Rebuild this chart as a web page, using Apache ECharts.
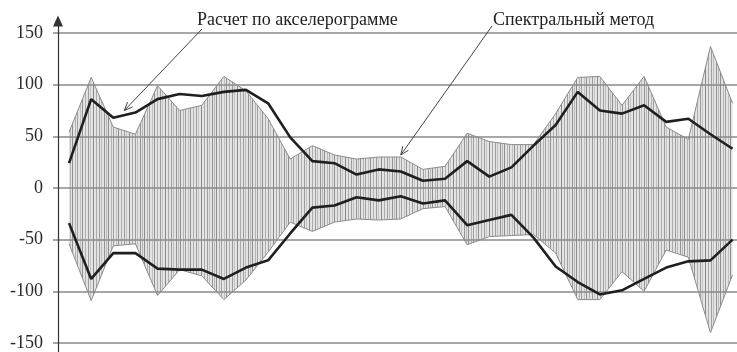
<!DOCTYPE html>
<html>
<head>
<meta charset="utf-8">
<script src="https://cdn.jsdelivr.net/npm/echarts@6/dist/echarts.min.js"></script>
<style>
  html, body { margin: 0; padding: 0; background: #fff; }
  #chart { width: 737px; height: 352px; }
</style>
</head>
<body>
<div id="chart"></div>
<script>
// Step numbers along the horizontal direction
const steps = [0, 1, 2, 3, 4, 5, 6, 7, 8, 9, 10, 11, 12, 13, 14, 15, 16, 17, 18, 19, 20, 21, 22, 23, 24, 25, 26, 27, 28, 29, 30];

// Spectral method: upper and lower bounds of the hatched band
const spectralUpper = [54, 107, 59, 52, 99, 75, 80, 108, 94, 67, 28, 41, 32, 28, 30, 30, 18, 21, 53, 45, 42, 42, 72, 107, 108, 80, 108, 59, 47, 137, 82];
const spectralLower = [-54, -109, -56, -54, -104, -79, -85, -108, -89, -62, -33, -42, -33, -30, -31, -30, -20, -18, -55, -47, -46, -45, -63, -108, -108, -81, -100, -60, -67, -140, -84];

// Accelerogram-based calculation: upper and lower curves
const accelUpper = [24, 86, 68, 73, 86, 91, 89, 93, 95, 82, 49, 26, 24, 13, 18, 16, 7, 9, 26, 11, 20, 41, 61, 93, 75, 72, 80, 64, 67, 52, 38];
const accelLower = [-34, -88, -63, -63, -78, -79, -79, -88, -77, -70, -44, -19, -17, -9, -12, -8, -15, -12, -36, -31, -26, -48, -76, -91, -103, -99, -88, -77, -71, -70, -50];

// Value-axis ticks
const yMin = -150, yMax = 150, yStep = 50;

// Captions and the points their leader arrows touch (step, value)
const captionAccel = 'Расчет по акселерограмме';
const captionSpectral = 'Спектральный метод';
const anchorAccel = [2.5, 75];
const anchorSpectral = [15, 32];

const pairs = vals => steps.map((s, i) => [s, vals[i]]);

// Vertical hatching used to fill the spectral band
function hatchPattern() {
  const c = document.createElement('canvas');
  c.width = 36; c.height = 8;
  const g = c.getContext('2d');
  g.fillStyle = '#e3e3e3';
  g.fillRect(0, 0, 36, 8);
  const strokes = [[0, '#8e8e8e'], [3, '#b4b4b4'], [5, '#a2a2a2'], [8, '#c0c0c0'], [10, '#929292'],
                   [13, '#b0b0b0'], [16, '#9c9c9c'], [18, '#c4c4c4'], [21, '#8a8a8a'], [24, '#acacac'],
                   [27, '#a0a0a0'], [29, '#bdbdbd'], [32, '#959595'], [34, '#b8b8b8']];
  strokes.forEach(([x, col]) => { g.fillStyle = col; g.fillRect(x, 0, 1, 8); });
  return c;
}
const hatch = { image: hatchPattern(), repeat: 'repeat' };

const serif = '"Liberation Serif", "Times New Roman", serif';
const gridColor = '#8a8a8a';

const chart = echarts.init(document.getElementById('chart'), null, { renderer: 'canvas' });

const bandSeries = vals => ({
  type: 'line',
  xAxisIndex: 0, yAxisIndex: 0,
  data: pairs(vals),
  symbol: 'none',
  z: 2,
  lineStyle: { color: '#8c8c8c', width: 1 },
  areaStyle: { color: hatch, opacity: 1 }
});
const curveSeries = vals => ({
  type: 'line',
  xAxisIndex: 0, yAxisIndex: 0,
  data: pairs(vals),
  symbol: 'none',
  z: 5,
  lineStyle: { color: '#1f1f1f', width: 2.6 }
});

chart.setOption({
  animation: false,
  backgroundColor: '#fff',
  grid: [
    { left: 58, right: 0, top: 33, bottom: 7 },
    { left: 58, right: 0, top: 21, bottom: 0 }
  ],
  xAxis: [
    { gridIndex: 0, type: 'value', min: -0.5, max: 30.2, show: false },
    { gridIndex: 1, type: 'value', min: 0, max: 1, show: false }
  ],
  yAxis: [
    {
      gridIndex: 0, type: 'value', min: yMin, max: yMax, interval: yStep, z: 3,
      axisLine: { show: false, onZero: false },
      axisTick: { show: true, length: 5, lineStyle: { color: gridColor, width: 1.5 } },
      axisLabel: { margin: 15, color: '#2a2a2a', fontFamily: serif, fontSize: 18 },
      splitLine: { show: true, lineStyle: { color: gridColor, width: 1.5 } }
    },
    {
      gridIndex: 1, type: 'value', min: 0, max: 1, z: 4,
      axisLine: { show: true, onZero: false, symbol: ['none', 'triangle'], symbolSize: [10, 11],
                  lineStyle: { color: '#333', width: 1.2 } },
      axisTick: { show: false }, axisLabel: { show: false }, splitLine: { show: false }
    }
  ],
  series: [
    bandSeries(spectralUpper),
    bandSeries(spectralLower),
    curveSeries(accelUpper),
    curveSeries(accelLower)
  ]
});

// Leader arrow from a caption to a point on the chart
function arrow(from, to) {
  const dx = to[0] - from[0], dy = to[1] - from[1];
  const len = Math.hypot(dx, dy), ux = dx / len, uy = dy / len;
  const head = 9, spread = 0.4;
  const side = s => [to[0] - head * (ux * Math.cos(spread) - s * uy * Math.sin(spread)),
                     to[1] - head * (uy * Math.cos(spread) + s * ux * Math.sin(spread))];
  return [
    { type: 'line', z: 10, shape: { x1: from[0], y1: from[1], x2: to[0], y2: to[1] },
      style: { stroke: '#444', lineWidth: 1 } },
    { type: 'polyline', z: 10, shape: { points: [side(1), to, side(-1)] },
      style: { stroke: '#444', lineWidth: 1, fill: null } }
  ];
}

const tipAccel = chart.convertToPixel({ gridIndex: 0 }, anchorAccel);
const tipSpectral = chart.convertToPixel({ gridIndex: 0 }, anchorSpectral);

chart.setOption({
  graphic: [
    { type: 'text', left: 197, top: 11, z: 10,
      style: { text: captionAccel, font: '18px ' + serif, fill: '#222' } },
    { type: 'text', left: 493, top: 11, z: 10,
      style: { text: captionSpectral, font: '18px ' + serif, fill: '#222' } },
    ...arrow([202, 29], tipAccel),
    ...arrow([492, 26], tipSpectral)
  ]
});
</script>
</body>
</html>
